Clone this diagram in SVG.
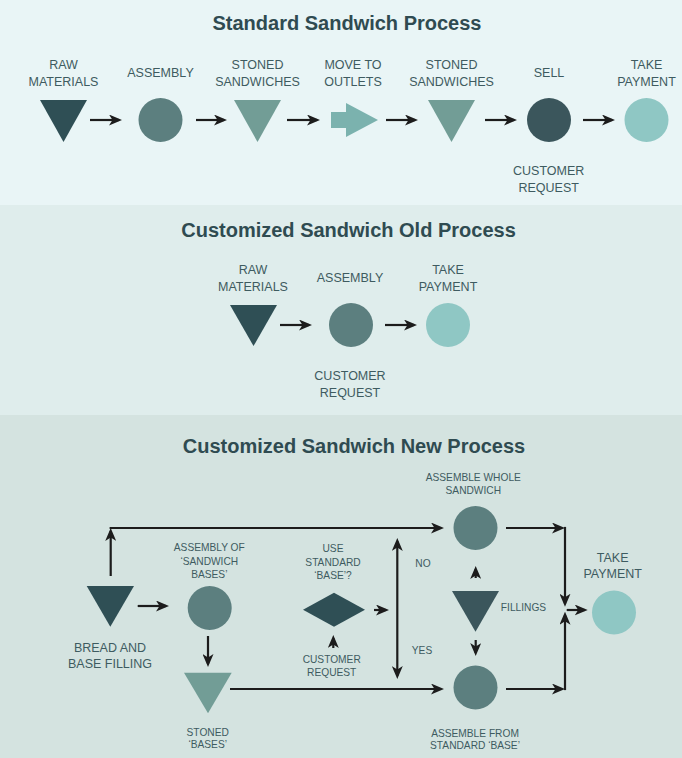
<svg xmlns="http://www.w3.org/2000/svg" width="682" height="758" viewBox="0 0 682 758">
<defs>
<style>
.t{font-family:"Liberation Sans",Arial,sans-serif;font-size:20px;font-weight:700;fill:#2F4B51;text-anchor:middle}
.l{font-family:"Liberation Sans",Arial,sans-serif;font-size:12.5px;fill:#3E5B60;text-anchor:middle}
.s{font-family:"Liberation Sans",Arial,sans-serif;font-size:10.2px;fill:#3E5B60;text-anchor:middle}
.c{fill:none;stroke:#1C1C1C;stroke-width:2.2;marker-end:url(#ah)}
.d{fill:#2F4F55}.m{fill:#5C7F7F}.st{fill:#729D96}.ba{fill:#7BB2AE}.se{fill:#3B565C}.p{fill:#8FC7C4}
</style>
<marker id="ah" viewBox="0 0 13 11" refX="10" refY="5.5" markerWidth="13" markerHeight="11" markerUnits="userSpaceOnUse" orient="auto-start-reverse">
<path d="M0,0 L13,5.5 L0,11 L3.5,5.5 z" fill="#1C1C1C"/>
</marker>
</defs>
<rect x="0" y="0" width="682" height="205" fill="#E9F5F6"/>
<rect x="0" y="205" width="682" height="210" fill="#DFEDEC"/>
<rect x="0" y="415" width="682" height="343" fill="#D4E3E0"/>

<text class="t" x="347" y="29.5">Standard Sandwich Process</text>
<text class="t" x="348.5" y="236.5">Customized Sandwich Old Process</text>
<text class="t" x="354" y="453">Customized Sandwich New Process</text>

<!-- Section 1 nodes -->
<g id="s1-raw"><polygon class="d" points="40,100 87,100 63.5,142"/><text class="l" x="63.5" y="69">RAW</text><text class="l" x="63.5" y="86">MATERIALS</text></g>
<g id="s1-assembly"><circle class="m" cx="160.5" cy="120" r="22"/><text class="l" x="160.5" y="77">ASSEMBLY</text></g>
<g id="s1-stoned1"><polygon class="st" points="234,100 281,100 257.5,142"/><text class="l" x="257.5" y="69">STONED</text><text class="l" x="257.5" y="86">SANDWICHES</text></g>
<g id="s1-move"><polygon class="ba" points="331,112 346,112 346,103 378,120 346,137 346,128 331,128"/><text class="l" x="353" y="69">MOVE TO</text><text class="l" x="353" y="86">OUTLETS</text></g>
<g id="s1-stoned2"><polygon class="st" points="428,100 475,100 451.5,142"/><text class="l" x="451.5" y="69">STONED</text><text class="l" x="451.5" y="86">SANDWICHES</text></g>
<g id="s1-sell"><circle class="se" cx="549" cy="120" r="22"/><text class="l" x="549" y="77">SELL</text><text class="l" x="548.7" y="175">CUSTOMER</text><text class="l" x="548.7" y="191.5">REQUEST</text></g>
<g id="s1-pay"><circle class="p" cx="646.5" cy="120" r="22"/><text class="l" x="646.5" y="69">TAKE</text><text class="l" x="646.5" y="86">PAYMENT</text></g>

<!-- Section 2 nodes -->
<g id="s2-raw"><polygon class="d" points="230,305 277,305 253.5,346"/><text class="l" x="253" y="273.5">RAW</text><text class="l" x="253" y="291">MATERIALS</text></g>
<g id="s2-assembly"><circle class="m" cx="351" cy="325" r="22"/><text class="l" x="350" y="282">ASSEMBLY</text><text class="l" x="350" y="380">CUSTOMER</text><text class="l" x="350" y="396.5">REQUEST</text></g>
<g id="s2-pay"><circle class="p" cx="448" cy="325" r="22"/><text class="l" x="448" y="273.5">TAKE</text><text class="l" x="448" y="291">PAYMENT</text></g>

<!-- Section 3 nodes -->
<g id="s3-bread"><polygon class="d" points="86.7,586 134,586 110.3,626.7"/><text class="l" x="110" y="652.3">BREAD AND</text><text class="l" x="110" y="668.3">BASE FILLING</text></g>
<g id="s3-assembly"><circle class="m" cx="209.7" cy="608" r="22"/><text class="s" x="209.3" y="551">ASSEMBLY OF</text><text class="s" x="209.3" y="565">‘SANDWICH</text><text class="s" x="209.3" y="577.7">BASES’</text></g>
<g id="s3-stoned"><polygon class="st" points="184,672.7 231.7,672.7 208,713.3"/><text class="s" x="207.7" y="735.7">STONED</text><text class="s" x="207.7" y="748.3">‘BASES’</text></g>
<g id="s3-decision"><polygon class="d" points="303,609.7 334,592.7 365,609.7 334,626.7"/><text class="s" x="333" y="552">USE</text><text class="s" x="333" y="566">STANDARD</text><text class="s" x="333" y="579.3">‘BASE’?</text><text class="s" x="331.7" y="663">CUSTOMER</text><text class="s" x="331.7" y="676">REQUEST</text></g>
<g id="s3-whole"><circle class="m" cx="475.5" cy="528" r="22"/><text class="s" x="473.3" y="480.7">ASSEMBLE WHOLE</text><text class="s" x="473.3" y="494">SANDWICH</text></g>
<g id="s3-fillings"><polygon class="se" points="452,591 499,591 475.5,631.7"/><text class="s" x="523.5" y="610.7">FILLINGS</text></g>
<g id="s3-fromstd"><circle class="m" cx="475.5" cy="687.5" r="22"/><text class="s" x="475" y="736.7">ASSEMBLE FROM</text><text class="s" x="475" y="749.3">STANDARD ‘BASE’</text></g>
<g id="s3-pay"><circle class="p" cx="614" cy="612.5" r="22"/><text class="l" x="612.7" y="561.7">TAKE</text><text class="l" x="612.7" y="578">PAYMENT</text></g>
<g id="s3-labels"><text class="s" x="423" y="566.7">NO</text><text class="s" x="422" y="654.3">YES</text></g>

<!-- Connectors -->
<g id="connectors">
<path class="c" d="M90,120 H119"/>
<path class="c" d="M196,120 H224"/>
<path class="c" d="M287,120 H317"/>
<path class="c" d="M386,120 H415"/>
<path class="c" d="M485,120 H514"/>
<path class="c" d="M583,120 H612"/>
<path class="c" d="M280,325 H309"/>
<path class="c" d="M385,325 H414"/>
<path class="c" d="M110.7,576 V531"/>
<path class="c" d="M109.6,528 H441"/>
<path class="c" d="M137.7,606 H166"/>
<path class="c" d="M208,636 V664"/>
<path class="c" d="M230,689 H441"/>
<path class="c" d="M374,610 H386"/>
<path class="c" d="M333.3,648 V638"/>
<path class="c" d="M397.3,541 V676" marker-start="url(#ah)"/>
<path class="c" d="M475.7,578 V569"/>
<path class="c" d="M475.7,640 V653"/>
<path class="c" d="M506,528 H562"/>
<path class="c" d="M506,689 H562"/>
<path class="c" d="M565,526.9 V603.7"/>
<path class="c" d="M565,690.1 V614.7"/>
<path class="c" d="M566.7,610 H584.7"/>
</g>
</svg>
